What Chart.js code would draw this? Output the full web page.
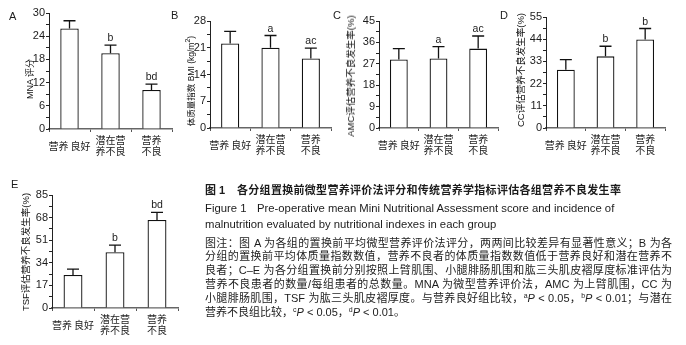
<!DOCTYPE html>
<html>
<head>
<meta charset="utf-8">
<script src="https://cdn.jsdelivr.net/npm/chart.js@4.4.1/dist/chart.umd.min.js"></script>
<style>
  body { margin: 0; width: 686px; height: 345px; position: relative; overflow: hidden; background: #fff;
         font-family: "Liberation Sans", "Noto Sans CJK SC", sans-serif; color: #1c1c1c; }
  canvas { position: absolute; left: 0; top: 0; }
  .tag { position: absolute; font-size: 11px; line-height: 14px; }
  .ytitle { position: absolute; white-space: nowrap; font-size: 9.5px; line-height: 12px; color: #111;
            transform: translate(-50%, -50%) rotate(-90deg); }
  .cap { position: absolute; font-size: 11px; line-height: 14px; white-space: nowrap; }
  .en { font-size: 11.3px; }
  .note { position: absolute; left: 205px; width: 467px; font-size: 11px; line-height: 14px;
          white-space: nowrap; text-align: justify; text-align-last: justify; }
  .note.last { text-align-last: left; }
  sup { font-size: 7px; vertical-align: 4px; line-height: 0; }
</style>
</head>
<body>
<canvas id="pa" width="686" height="345"></canvas>
<canvas id="pb" width="686" height="345"></canvas>
<canvas id="pc" width="686" height="345"></canvas>
<canvas id="pd" width="686" height="345"></canvas>
<canvas id="pe" width="686" height="345"></canvas>

<div class="tag" style="left:9px;top:9px">A</div>
<div class="tag" style="left:171px;top:8px">B</div>
<div class="tag" style="left:333px;top:8px">C</div>
<div class="tag" style="left:500px;top:8px">D</div>
<div class="tag" style="left:11px;top:177px">E</div>

<div class="ytitle" style="left:30px;top:79px;font-size:9px">MNA 评分</div>
<div class="ytitle" style="left:191px;top:81px;font-size:8.5px">体质量指数 BMI (kg/m<sup>2</sup>)</div>
<div class="ytitle" style="left:351px;top:76px">AMC评估营养不良发生率(%)</div>
<div class="ytitle" style="left:521px;top:70px">CC评估营养不良发生率(%)</div>
<div class="ytitle" style="left:26px;top:252px">TSF评估营养不良发生率(%)</div>

<div class="cap" style="left:205px;top:183px;font-weight:bold">图 1</div>
<div class="cap" style="left:237px;top:183px;font-weight:bold;letter-spacing:0.3px">各分组置换前微型营养评价法评分和传统营养学指标评估各组营养不良发生率</div>
<div class="cap en" style="left:205px;top:201px">Figure 1</div>
<div class="cap en" style="left:257px;top:201px">Pre-operative mean Mini Nutritional Assessment score and incidence of</div>
<div class="cap en" style="left:205px;top:217px">malnutrition evaluated by nutritional indexes in each group</div>

<div class="note" style="top:236px">图注：图 A 为各组的置换前平均微型营养评价法评分，两两间比较差异有显著性意义；B 为各</div>
<div class="note" style="top:249px">分组的置换前平均体质量指数数值，营养不良者的体质量指数数值低于营养良好和潜在营养不</div>
<div class="note" style="top:263px">良者；C–E 为各分组置换前分别按照上臂肌围、小腿腓肠肌围和肱三头肌皮褶厚度标准评估为</div>
<div class="note" style="top:277px">营养不良患者的数量/每组患者的总数量。MNA 为微型营养评价法，AMC 为上臂肌围，CC 为</div>
<div class="note" style="top:291px">小腿腓肠肌围，TSF 为肱三头肌皮褶厚度。与营养良好组比较，<sup>a</sup><i>P</i> &lt; 0.05，<sup>b</sup><i>P</i> &lt; 0.01；与潜在</div>
<div class="note last" style="top:305px">营养不良组比较，<sup>c</sup><i>P</i> &lt; 0.05，<sup>d</sup><i>P</i> &lt; 0.01。</div>

<script>
// groups
const groups = [['营养\u2009良好'], ['潜在营', '养不良'], ['营养', '不良']];

// A: MNA score
const mnaMean = [26.0, 19.6, 10.1];
const mnaSd = [2.0, 2.1, 1.5];
const mnaSig = ['', 'b', 'bd'];
const mnaTicks = [0, 6, 12, 18, 24, 30];

// B: BMI
const bmiMean = [22.1, 21.0, 18.2];
const bmiSd = [3.2, 3.2, 2.7];
const bmiSig = ['', 'a', 'ac'];
const bmiTicks = [0, 7, 14, 21, 28];

// C: AMC malnutrition rate (%)
const amcRate = [28.8, 29.2, 33.4];
const amcErr = [4.6, 5.0, 5.3];
const amcSig = ['', 'a', 'ac'];
const amcTicks = [0, 9, 18, 27, 36, 45];

// D: CC malnutrition rate (%)
const ccRate = [28.9, 35.5, 43.9];
const ccErr = [5.0, 5.0, 5.4];
const ccSig = ['', 'b', 'b'];
const ccTicks = [0, 11, 22, 33, 44, 55];

// E: TSF malnutrition rate (%)
const tsfRate = [24.8, 42.0, 66.2];
const tsfErr = [4.5, 5.3, 5.8];
const tsfSig = ['', 'b', 'bd'];
const tsfTicks = [0, 17, 34, 51, 68, 85];

const W = 686, H = 345;

const errBars = {
    id: 'errBars',
    afterDatasetsDraw(chart) {
        const ctx = chart.ctx;
        const y = chart.scales.y;
        const ds = chart.data.datasets[0];
        ctx.save();
        ctx.strokeStyle = '#111';
        ctx.lineWidth = 1.3;
        ctx.fillStyle = '#1c1c1c';
        ctx.font = '10.5px "Liberation Sans", Arial, sans-serif';
        ctx.textAlign = 'center';
        ctx.textBaseline = 'alphabetic';
        chart.getDatasetMeta(0).data.forEach((bar, i) => {
            const top = y.getPixelForValue(ds.data[i] + ds.err[i]);
            ctx.beginPath();
            ctx.moveTo(bar.x, bar.y);
            ctx.lineTo(bar.x, top);
            ctx.moveTo(bar.x - 6, top);
            ctx.lineTo(bar.x + 6, top);
            ctx.stroke();
            if (ds.sig[i]) ctx.fillText(ds.sig[i], bar.x, top - 4);
        });
        ctx.restore();
    }
};

function panel(id, area, values, errs, sigs, ticks) {
    const step = ticks[1] / 2;
    new Chart(document.getElementById(id), {
        type: 'bar',
        data: {
            labels: groups,
            datasets: [{
                data: values,
                err: errs,
                sig: sigs,
                backgroundColor: '#fff',
                borderColor: '#111',
                borderWidth: 1.3,
                barPercentage: 0.9,
                categoryPercentage: 0.5
            }]
        },
        options: {
            responsive: false,
            animation: false,
            events: [],
            layout: {
                padding: { left: area.left - 40, right: W - area.right, top: area.top, bottom: H - area.bottom - 36 }
            },
            plugins: { legend: { display: false }, tooltip: { enabled: false } },
            scales: {
                x: {
                    afterFit: (s) => { s.height = 36; },
                    grid: { drawOnChartArea: false, tickLength: 3, color: '#555' },
                    border: { color: '#666', width: 1.5 },
                    ticks: {
                        autoSkip: false, maxRotation: 0, minRotation: 0, padding: 8,
                        crossAlign: 'center',
                        color: '#222',
                        font: { family: '"Noto Sans CJK SC"', size: 10, lineHeight: 1.15 }
                    }
                },
                y: {
                    min: 0,
                    max: ticks[ticks.length - 1],
                    afterFit: (s) => { s.width = 40; },
                    grid: { drawOnChartArea: false, tickLength: 3, color: '#222' },
                    border: { color: '#222', width: 1 },
                    ticks: {
                        stepSize: step, autoSkip: false, padding: 1, color: '#1c1c1c',
                        font: { family: '"Liberation Sans", Arial, sans-serif', size: 11 },
                        callback: (v, i) => (i % 2 ? '' : v)
                    }
                }
            }
        },
        plugins: [errBars]
    });
}

panel('pa', { left: 49, right: 172, top: 13, bottom: 129 }, mnaMean, mnaSd, mnaSig, mnaTicks);
panel('pb', { left: 210, right: 331, top: 21, bottom: 128 }, bmiMean, bmiSd, bmiSig, bmiTicks);
panel('pc', { left: 379, right: 498, top: 21, bottom: 128 }, amcRate, amcErr, amcSig, amcTicks);
panel('pd', { left: 546, right: 665, top: 17, bottom: 128 }, ccRate, ccErr, ccSig, ccTicks);
panel('pe', { left: 52, right: 178, top: 195, bottom: 308 }, tsfRate, tsfErr, tsfSig, tsfTicks);
</script>
</body>
</html>
